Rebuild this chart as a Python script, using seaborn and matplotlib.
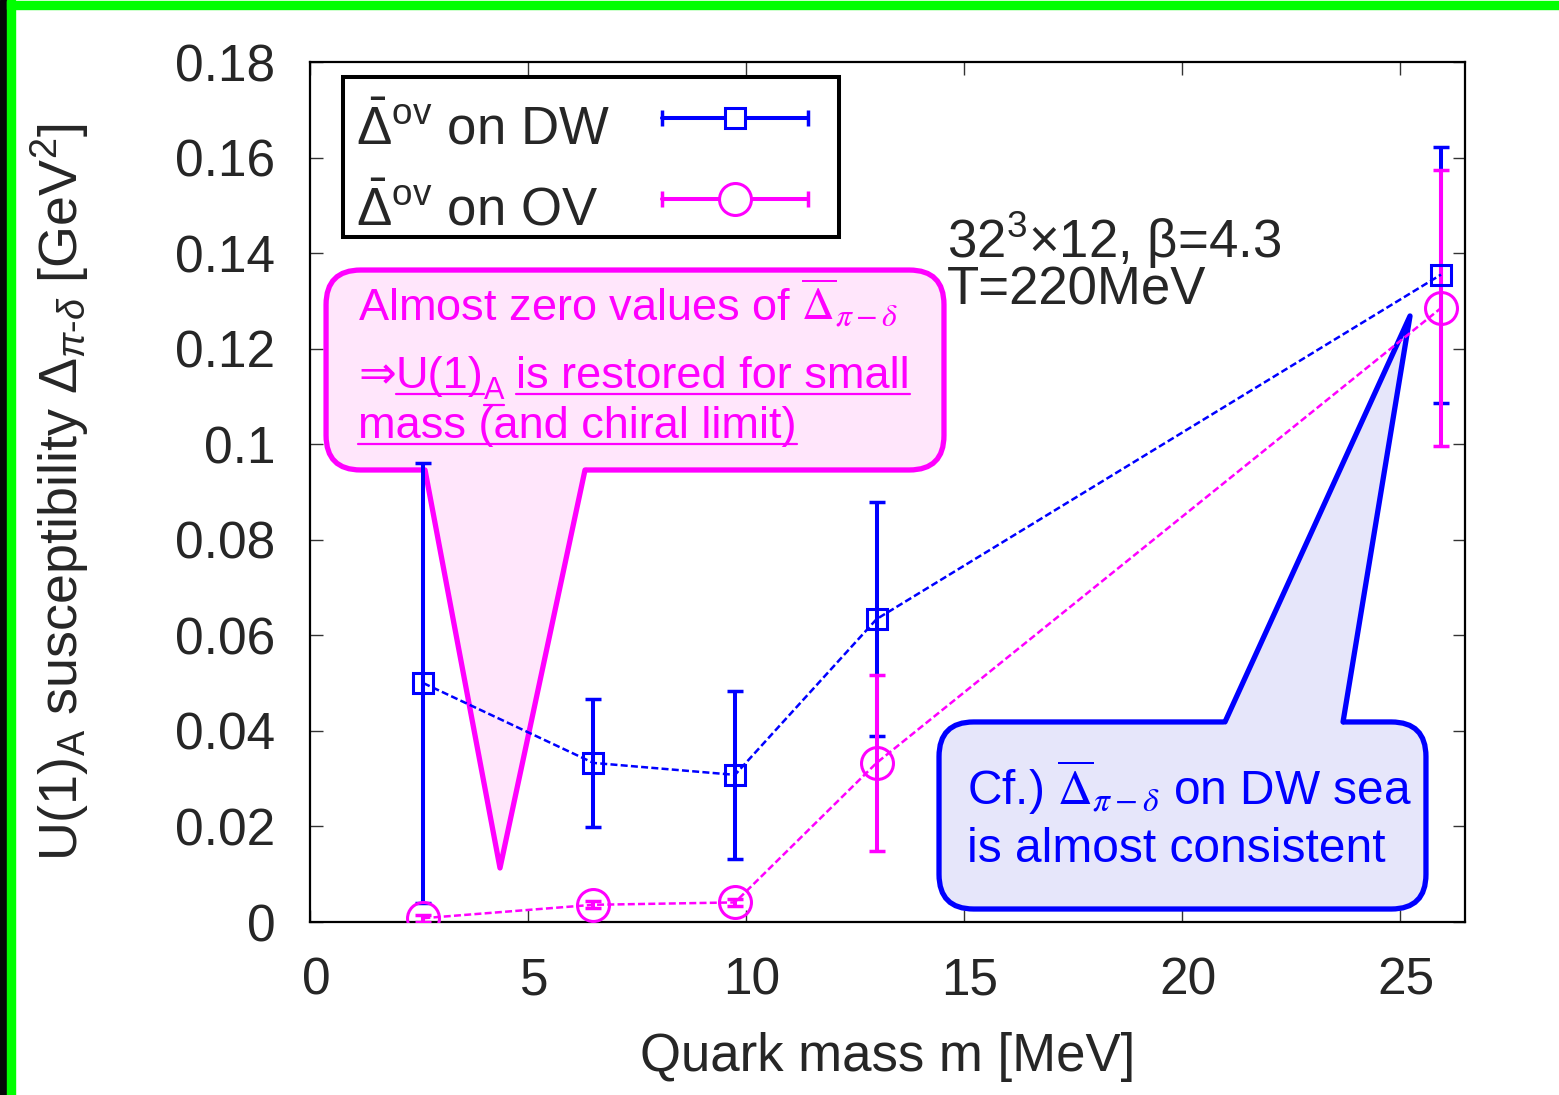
import pandas as pd
import matplotlib.pyplot as plt
import matplotlib.transforms as mtransforms
import seaborn as sns
from matplotlib.lines import Line2D
from matplotlib.patches import FancyBboxPatch, Polygon, Rectangle
from matplotlib.legend_handler import HandlerLine2D

# quark mass [MeV]
mass = [2.6, 6.5, 9.75, 13.0, 25.95]

# Delta^ov on DW sea
dw_value = [0.0500, 0.0333, 0.0308, 0.0634, 0.1355]
dw_error = [0.0461, 0.0134, 0.0176, 0.0245, 0.0268]

# Delta^ov on OV sea
ov_value = [0.0008, 0.0036, 0.0041, 0.0333, 0.1285]
ov_error = [0.0007, 0.0007, 0.0008, 0.0185, 0.0288]

series_names = ["DW", "OV"]
series_labels = [r"$\bar{\Delta}^{\rm ov}$ on DW", r"$\bar{\Delta}^{\rm ov}$ on OV"]

x_ticks = [0, 5, 10, 15, 20, 25]
y_ticks = [0, 0.02, 0.04, 0.06, 0.08, 0.10, 0.12, 0.14, 0.16, 0.18]
y_tick_labels = ["0", "0.02", "0.04", "0.06", "0.08", "0.1", "0.12", "0.14", "0.16", "0.18"]

BLUE = "#0000ff"
MAGENTA = "#ff00ff"
W, H = 1559, 1095


class LiftedLine(HandlerLine2D):
    """Legend line handler that sits a bit higher than the default one."""

    def __init__(self, lift=0.0, **kw):
        super().__init__(**kw)
        self.lift = lift

    def create_artists(self, legend, orig_handle, xdescent, ydescent, width, height,
                       fontsize, trans):
        return super().create_artists(legend, orig_handle, xdescent,
                                      ydescent - 2 * self.lift * fontsize,
                                      width, height, fontsize, trans)


def build_frame() -> pd.DataFrame:
    dw = pd.DataFrame({"mass": mass, "value": dw_value, "error": dw_error, "sea": "DW"})
    ov = pd.DataFrame({"mass": mass, "value": ov_value, "error": ov_error, "sea": "OV"})
    return pd.concat([dw, ov], ignore_index=True)


def draw_callout(ax, box, base, tip, face, edge, upward=False):
    x0, y0, x1, y1 = box
    pos = ax.get_position()
    aspect = (pos.width * W) / (pos.height * H)
    patch = FancyBboxPatch(
        (x0, y0), x1 - x0, y1 - y0,
        boxstyle="round,pad=0,rounding_size=0.03", mutation_aspect=aspect,
        transform=ax.transAxes, fc=face, ec=edge, lw=3.8, zorder=3, clip_on=False,
    )
    ax.add_patch(patch)
    by = y1 if upward else y0
    bl, br = (base[0], by), (base[1], by)
    # extend the base a little into the box so the fill hides the box edge
    t = 0.04
    bl_in = (bl[0] + t * (bl[0] - tip[0]), bl[1] + t * (bl[1] - tip[1]))
    br_in = (br[0] + t * (br[0] - tip[0]), br[1] + t * (br[1] - tip[1]))
    ax.add_patch(Polygon([bl_in, tip, br_in], closed=True, transform=ax.transAxes,
                         fc=face, ec="none", zorder=3.1, clip_on=False))
    ax.add_line(Line2D([bl[0], tip[0], br[0]], [bl[1], tip[1], br[1]],
                       transform=ax.transAxes, color=edge, lw=3.8,
                       solid_joinstyle="round", zorder=3.2, clip_on=False))


def chain_text(ax, renderer, x, y, pieces, color, size):
    """Write pieces one after another on a baseline, underlining some of them."""
    to_axes = ax.transAxes.inverted()
    cur_x = x
    for text, underline, sub in pieces:
        fs = size * 0.68 if sub else size
        dy = -11 if sub else 0
        bx, by = ax.transAxes.transform((cur_x, y))
        ax_pos = to_axes.transform((bx, by + dy))
        t = ax.text(ax_pos[0], ax_pos[1], text, transform=ax.transAxes, color=color,
                    fontsize=fs, ha="left", va="baseline", zorder=6,
                    family=["Liberation Sans", "DejaVu Sans"])
        ext = t.get_window_extent(renderer)
        if underline and text.strip():
            uy = by + dy - 6
            ul = to_axes.transform([(ext.x0, uy), (ext.x1, uy)])
            ax.add_line(Line2D(ul[:, 0], ul[:, 1], transform=ax.transAxes, color=color,
                               lw=1.6, zorder=6))
        cur_x = to_axes.transform((ext.x1, by))[0]


def plot_chart(df: pd.DataFrame, output_path: str) -> None:
    sns.set_theme(style="ticks")
    plt.rcParams["font.family"] = ["Liberation Sans", "DejaVu Sans"]
    plt.rcParams["mathtext.fontset"] = "custom"
    plt.rcParams["mathtext.rm"] = "Liberation Sans"
    plt.rcParams["mathtext.it"] = "Liberation Sans:italic"
    plt.rcParams["mathtext.bf"] = "Liberation Sans:bold"
    plt.rcParams["mathtext.sf"] = "Liberation Sans"

    fig = plt.figure(figsize=(W / 100, H / 100), dpi=100, facecolor="white")
    ax = fig.add_axes([310 / W, 1 - 922 / H, 1155 / W, 860 / H])
    renderer = fig.canvas.get_renderer()

    # slide frame
    fig.patches.append(Rectangle((0, 0), 7 / W, 1, transform=fig.transFigure,
                                 color="#050808", zorder=0))
    fig.patches.append(Rectangle((7 / W, 0), 8 / W, 1, transform=fig.transFigure,
                                 color="#00ff00", zorder=0))
    fig.patches.append(Rectangle((7 / W, 1 - 9 / H), 1, 8 / H, transform=fig.transFigure,
                                 color="#00ff00", zorder=0))

    styles = {
        "DW": dict(color=BLUE, marker="s", ms=14),
        "OV": dict(color=MAGENTA, marker="o", ms=23),
    }
    for sea in series_names:
        sub = df[df["sea"] == sea]
        st = styles[sea]
        sns.lineplot(data=sub, x="mass", y="value", ax=ax, color=st["color"],
                     lw=1.8, linestyle=(0, (2.8, 1.3)), marker=st["marker"],
                     markersize=st["ms"], markerfacecolor="none",
                     markeredgecolor=st["color"], markeredgewidth=2.2,
                     errorbar=None, legend=False, zorder=5)
        ax.errorbar(sub["mass"], sub["value"], yerr=sub["error"], fmt="none",
                    ecolor=st["color"], elinewidth=2.9, capsize=5.5, capthick=2.5,
                    zorder=4 if sea == "DW" else 4.5)

    ax.set_xlim(0, 26.5)
    ax.set_ylim(0, 0.18)
    ax.set_xticks(x_ticks)
    ax.set_yticks(y_ticks, labels=y_tick_labels)
    ax.tick_params(direction="in", top=True, right=True, length=9, width=1,
                   color="#333333", labelsize=37, pad=25)
    shift = mtransforms.ScaledTranslation(0.06, 0, fig.dpi_scale_trans)
    for lab in ax.get_xticklabels():
        lab.set_transform(lab.get_transform() + shift)
    for spine in ax.spines.values():
        spine.set_linewidth(1.6)
        spine.set_color("black")
    ax.set_xlabel("Quark mass m [MeV]", fontsize=38)
    ax.set_ylabel(r"U(1)$_{\rm A}$ susceptibility $\Delta_{\pi\text{-}\delta}$ [GeV$^{2}$]",
                  fontsize=38.8)
    ax.xaxis.set_label_coords(0.5, -0.128)
    ax.yaxis.set_label_coords(-0.19, 0.5)

    # legend in gnuplot style: text first, then a horizontal error bar
    handles, hmap = [], {}
    for sea in series_names:
        st = styles[sea]
        caps = Line2D([], [], color=st["color"], lw=2.9, marker="|", ms=11, mew=2.5)
        mk = Line2D([], [], ls="none", color=st["color"], marker=st["marker"],
                    ms=st["ms"], mfc="white", mec=st["color"], mew=2.2)
        hmap[caps] = LiftedLine(lift=0.15, numpoints=2, marker_pad=0.3)
        hmap[mk] = LiftedLine(lift=0.15, numpoints=1)
        handles.append((caps, mk))
    leg = ax.legend(handles, series_labels, handler_map=hmap, loc="upper left",
                    bbox_to_anchor=(0.0398, 0.9512), borderaxespad=0, borderpad=0,
                    fontsize=38, markerfirst=False, handlelength=3.37,
                    handletextpad=0.68, labelspacing=0.57, frameon=False)
    leg.set_zorder(8)
    # left-align the labels but keep the error-bar samples in one column
    column = leg._legend_handle_box.get_children()[0]
    column.align = "left"
    widths = [t.get_window_extent(renderer).width for t in leg.get_texts()]
    for item, w in zip(column.get_children(), widths):
        item.sep += (max(widths) - w) * 72 / fig.dpi
    ax.add_patch(Rectangle((0.0286, 0.7965), 0.4294, 0.1861, transform=ax.transAxes,
                           fc="white", ec="black", lw=2.9, zorder=7))

    ax.text(0.5515, 0.7721, r"32$^{3}$×12, β=4.3", transform=ax.transAxes,
            fontsize=38, va="baseline", ha="left", zorder=6)
    ax.text(0.5515, 0.7175, "T=220MeV", transform=ax.transAxes,
            fontsize=38, va="baseline", ha="left", zorder=6)

    # call-outs
    draw_callout(ax, (0.0139, 0.5256, 0.5489, 0.7581), (0.0996, 0.2381),
                 (0.1645, 0.0628), "#ffe6fb", MAGENTA)
    draw_callout(ax, (0.5446, 0.0151, 0.9662, 0.2326), (0.7922, 0.8944),
                 (0.9524, 0.7047), "#e6e6fa", BLUE, upward=True)

    ax.text(0.0416, 0.6977, r"Almost zero values of $\overline{\Delta}_{\pi-\delta}$",
            transform=ax.transAxes, color=MAGENTA, fontsize=32.5, va="baseline",
            math_fontfamily="stix", zorder=6)
    chain_text(ax, renderer, 0.0416, 0.6209,
               [("⇒", False, False), ("U(1)", True, False), ("A", True, True),
                (" ", False, False), ("is restored for small", True, False)],
               MAGENTA, 32.5)
    chain_text(ax, renderer, 0.0416, 0.5628, [("mass (and chiral limit)", True, False)],
               MAGENTA, 32.5)

    ax.text(0.5688, 0.1360, r"Cf.) $\overline{\Delta}_{\pi-\delta}$ on DW sea",
            transform=ax.transAxes, color=BLUE, fontsize=34.5, va="baseline",
            math_fontfamily="stix", zorder=6)
    ax.text(0.5688, 0.0698, "is almost consistent", transform=ax.transAxes,
            color=BLUE, fontsize=34.5, va="baseline", zorder=6)

    fig.savefig(output_path, dpi=100)
    plt.close(fig)


def main() -> None:
    data = build_frame()
    plot_chart(data, "out.png")


if __name__ == "__main__":
    main()
